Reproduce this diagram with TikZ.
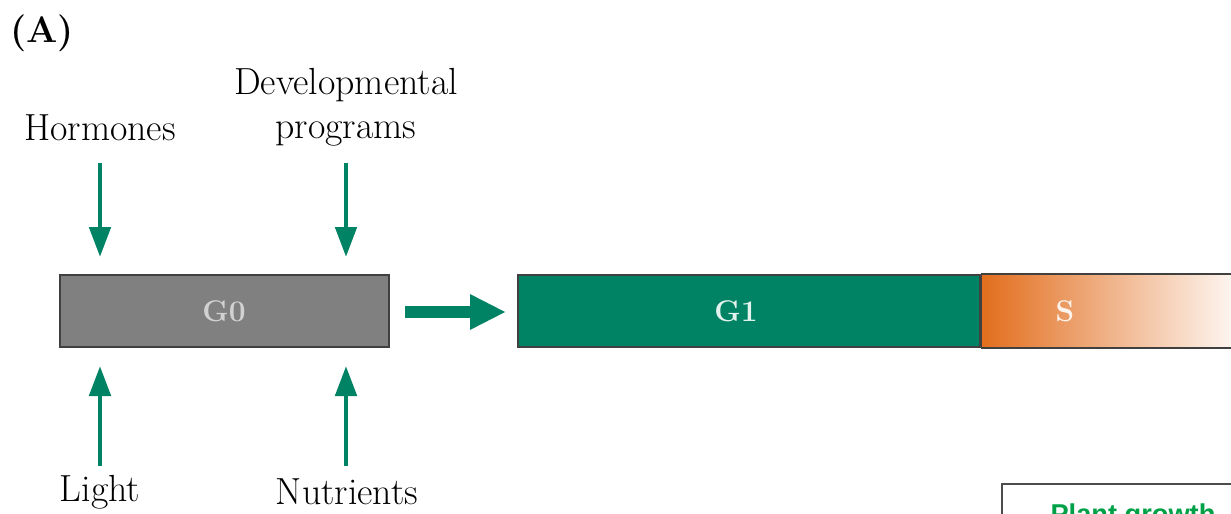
\documentclass[tikz,border=0pt]{standalone}
\usepackage{fontspec}
\newfontfamily\labelsans{Liberation Sans}
\usepackage{tikz}
\usetikzlibrary{arrows.meta}
\usetikzlibrary{positioning}

\definecolor{cyclegreen}{RGB}{0,130,100}
\definecolor{cycleorange}{RGB}{226,110,30}
\definecolor{phasegray}{RGB}{128,128,128}
\definecolor{growthgreen}{RGB}{0,160,70}

\begin{document}
\begin{tikzpicture}[x=0.02cm, y=-0.02cm,
    every node/.style={font=\fontsize{21.5}{25}\selectfont, inner sep=0pt},
    phase/.style={draw=black!75, line width=1.2pt, minimum height=72*0.02cm},
    phaselabel/.style={font=\fontsize{17}{20}\selectfont\bfseries},
    signal/.style={draw=cyclegreen, line width=2.8pt, -{Triangle[length=0.6cm, width=0.42cm]}}]
        % Fix the frame to the size of the picture
        \useasboundingbox (0,0) rectangle (1231,514);
        \clip (0,0) rectangle (1231,514);

        % Panel label
        \node[font=\fontsize{21}{24}\selectfont\bfseries] (panel) at (42,33) {(A)};

        % Labels above and below the G0 box
        \node (hormones) at (100,128) {Hormones};
        \node[align=center] (devel) at (346,107) {Developmental\\programs};
        \node (light) at (100,492) {Light};
        \node (nutrients) at (347,492) {Nutrients};

        % The phase boxes
        \node[phase, fill=phasegray, minimum width=329*0.02cm] (G0) at (224.5,311) {};
        \node[phase, fill=cyclegreen, minimum width=462*0.02cm] (G1) at (749,311) {};
        \node[phase, draw=none, left color=cycleorange, middle color=cycleorange!62!white, right color=white!94!cycleorange, minimum width=252*0.02cm, anchor=west] (S) at (G1.east) {};
        \draw[draw=black!75, line width=1.2pt] (S.north west) -- (S.north east);
        \draw[draw=black!75, line width=1.2pt] (S.south west) -- (S.south east);
        \draw[draw=black!75, line width=1.2pt] (G1.north east) -- (G1.south east);

        % Phase names
        \node[phaselabel, text=black!18] (G0label) at (224,311) {G0};
        \node[phaselabel, text=white!90!cyclegreen] (G1label) at (736,311) {G1};
        \node[phaselabel, text=white!92!cycleorange] (Slabel) at (1065,311) {S};

        % Coordinates for the arrow ends
        \coordinate (H0) at (100,163);
        \coordinate (D0) at (346,163);
        \coordinate (L0) at (100,466);
        \coordinate (N0) at (346,466);
        \coordinate (H1) at (100,257);
        \coordinate (D1) at (346,257);
        \coordinate (L1) at (100,366);
        \coordinate (N1) at (346,366);

        % Signals acting on G0
        \draw[signal] (H0) -- (H1);
        \draw[signal] (D0) -- (D1);
        \draw[signal] (L0) -- (L1);
        \draw[signal] (N0) -- (N1);

        % Exit from G0 into the cycle
        \coordinate (exit) at (405,312);
        \coordinate (entry) at (506,312);
        \draw[draw=cyclegreen, line width=6.8pt, -{Triangle[length=0.72cm, width=0.66cm]}] (exit) -- (entry);

        % Box at the lower right
        \node[draw=black!70, line width=1pt, minimum width=300*0.02cm, minimum height=60*0.02cm, anchor=north west] (growth) at (1001,483) {};
        \node[text=growthgreen, font=\labelsans\fontsize{15.5}{18}\selectfont\bfseries, anchor=north] (growthtext) at (1133,503) {Plant growth};
      \end{tikzpicture}
\end{document}
